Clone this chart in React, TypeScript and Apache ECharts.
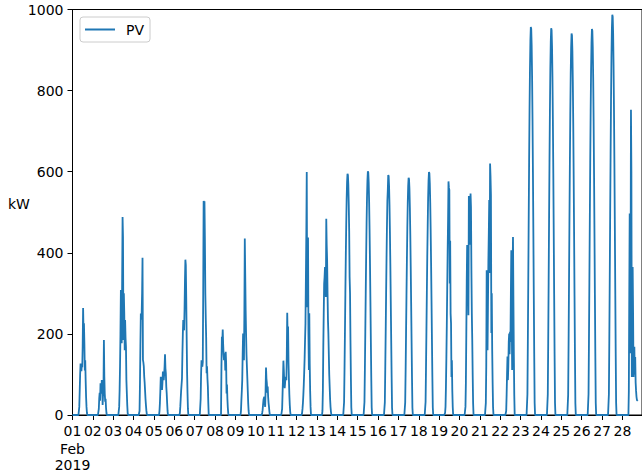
import React, { useEffect, useRef } from "react";
import * as echarts from "echarts";

// Half-hourly PV readings (kW) for each day of Feb 2019, from 06:00 to 18:00
const dayStartHour = 6;
const stepHours = 0.5;
const hoursPerDay = 24;

const pv01 = [0,0,0,0,20,60,100,127,115,108,125,118,170,264,205,226,176,110,135,85,45,20,5,0,0];
const pv02 = [0,0,15,41,55,35,78,60,53,86,70,25,50,66,185,95,53,33,40,18,5,0,0,0,0];
const pv03 = [0,0,20,60,120,200,308,250,177,332,488,439,185,300,250,160,234,190,168,86,55,25,5,0,0];
const pv04 = [0,0,10,80,170,250,235,250,300,388,136,130,120,95,80,60,40,25,12,3,0,0,0,0,0];
const pv05 = [0,10,30,60,94,88,75,62,80,107,95,86,100,120,150,115,103,70,53,30,10,0,0,0,0];
const pv06 = [0,5,20,40,60,75,90,150,200,234,215,209,260,330,383,370,291,193,106,55,15,0,0,0,0];
const pv07 = [0,0,40,100,135,125,119,130,300,528,500,527,431,300,240,190,103,120,90,70,30,0,0,0,0];
const pv08 = [0,0,0,120,193,180,211,175,150,135,145,152,110,156,130,53,75,40,18,4,0,0,0,0,0];
const pv09 = [0,10,37,60,86,150,201,160,135,250,435,349,260,201,150,119,90,60,30,10,0,0,0,0,0];
const pv10 = [0,0,0,5,12,25,37,42,45,30,20,60,117,90,78,55,70,45,30,20,8,0,0,0,0];
const pv11 = [0,0,15,53,90,134,110,80,66,80,94,90,86,150,252,190,218,130,86,50,25,8,0,0,0];
const pv12 = [0,5,15,30,50,75,105,140,185,226,340,450,599,266,350,438,200,111,251,127,60,20,0,0,0];
const pv13 = [0,10,60,168,250,324,340,365,330,291,484,420,382,300,234,200,150,100,70,40,20,8,0,0,0];
const pv14 = [0,0,0,0,32,112,204,299,389,468,531,574,595,592,567,519,453,340,300,186,94,19,0,0,0];
const pv15 = [0,0,0,0,32,113,206,302,393,473,537,579,601,598,573,525,458,376,283,188,95,19,0,0,0];
const pv16 = [0,0,0,0,31,112,203,298,387,466,529,555,592,589,564,517,451,370,279,185,94,18,0,0,0];
const pv17 = [0,0,0,0,31,110,201,294,382,460,522,564,585,582,558,511,446,366,276,183,93,18,0,0,0];
const pv18 = [0,0,0,0,32,113,206,301,391,465,535,578,599,596,571,523,456,374,282,187,95,19,0,0,0];
const pv19 = [0,0,5,20,70,140,220,310,400,480,576,560,555,324,430,250,226,94,135,60,20,0,0,0,0];
const pv20 = [0,0,20,80,200,330,419,300,380,246,540,480,420,520,546,512,357,250,185,100,30,0,0,0,0];
const pv21 = [0,0,30,120,357,250,160,267,380,450,530,350,620,590,543,202,300,160,80,20,0,0,0,0,0];
const pv22 = [0,0,10,50,100,144,86,120,180,201,150,205,180,300,406,250,111,350,439,283,150,50,0,0,0];
const pv23 = [0,0,0,0,51,180,328,481,625,753,854,923,957,952,912,835,729,598,451,299,152,30,0,0,0];
const pv24 = [0,0,0,0,51,180,327,479,623,750,852,920,954,949,909,833,726,596,450,298,151,30,0,0,0];
const pv25 = [0,0,0,0,50,177,323,473,615,740,840,907,941,936,897,821,717,588,444,294,149,29,0,0,0];
const pv26 = [0,0,0,0,51,180,327,478,622,749,850,918,952,947,907,831,725,595,449,297,151,30,0,0,0];
const pv27 = [0,0,0,0,52,186,339,496,644,776,881,951,987,982,941,861,751,617,465,308,156,31,0,0,0];
const pv28 = [0,0,0,60,296,497,152,300,753,600,94,200,365,250,94,130,168,100,143,80,60,45,37,37,35];

const pvDays = [pv01,pv02,pv03,pv04,pv05,pv06,pv07,pv08,pv09,pv10,pv11,pv12,pv13,pv14,
  pv15,pv16,pv17,pv18,pv19,pv20,pv21,pv22,pv23,pv24,pv25,pv26,pv27,pv28];

const dayLabels = ["01","02","03","04","05","06","07","08","09","10","11","12","13","14",
  "15","16","17","18","19","20","21","22","23","24","25","26","27","28"];
const monthLabel = "Feb";
const yearLabel = "2019";
const yTicks = [0, 200, 400, 600, 800, 1000];
const seriesName = "PV";
const unitLabel = "kW";
const monthStartValue = 0;

export default function App() {
  const ref = useRef<HTMLDivElement>(null);
  useEffect(() => {
    if (!ref.current) return;
    const chart = echarts.init(ref.current, undefined, { renderer: "svg" });
    const data: number[][] = [[0, monthStartValue]];
    pvDays.forEach((arr, d) => {
      arr.forEach((v, i) => {
        data.push([d * hoursPerDay + dayStartHour + i * stepHours, v]);
      });
    });
    const xMax = pvDays.length * hoursPerDay - 1;
    const font = "DejaVu Sans";
    const gridLeft = 72.5;
    chart.setOption({
      animation: false,
      backgroundColor: "#ffffff",
      textStyle: { fontFamily: font, color: "#000" },
      grid: {
        left: gridLeft, top: 9.5, width: 573, height: 405.5,
        show: true, borderColor: "#000", borderWidth: 1, backgroundColor: "transparent",
      },
      legend: {
        left: 80, top: 17,
        padding: [5, 6, 5, 5],
        backgroundColor: "rgba(255,255,255,0.8)",
        borderColor: "#cccccc", borderWidth: 1, borderRadius: 3,
        icon: "rect", itemWidth: 30, itemHeight: 2,
        textStyle: { fontFamily: font, fontSize: 14, color: "#000", padding: [0, 0, 0, 6], lineHeight: 15 },
        data: [seriesName],
      },
      xAxis: {
        type: "value", min: 0, max: xMax, interval: hoursPerDay,
        axisLine: { show: true, onZero: false, lineStyle: { color: "#000", width: 1 } },
        axisTick: { show: true, length: 5, lineStyle: { color: "#000", width: 1 } },
        splitLine: { show: false },
        axisLabel: {
          color: "#000", fontSize: 14, fontFamily: font, margin: 9,
          showMinLabel: true, showMaxLabel: false, hideOverlap: false,
          formatter: (v: number) => {
            if (v % hoursPerDay !== 0) return "";
            const lab = dayLabels[v / hoursPerDay];
            return lab === undefined ? "" : lab;
          },
        },
      },
      yAxis: {
        type: "value", min: yTicks[0], max: yTicks[yTicks.length - 1], interval: yTicks[1] - yTicks[0],
        axisLine: { show: true, lineStyle: { color: "#000", width: 1 } },
        axisTick: { show: true, length: 5, lineStyle: { color: "#000", width: 1 } },
        splitLine: { show: false },
        axisLabel: {
          color: "#000", fontSize: 14, fontFamily: font, margin: 9,
          showMinLabel: true, showMaxLabel: true,
          formatter: (v: number) => String(v),
        },
      },
      series: [{
        type: "line", name: seriesName, data,
        showSymbol: false, symbol: "none",
        lineStyle: { color: "#1f77b4", width: 1.8 },
        itemStyle: { color: "#1f77b4" },
      }],
      graphic: [
        {
          type: "text", left: 8, top: 197,
          style: { text: unitLabel, font: `14px '${font}'`, fill: "#000" },
        },
        {
          type: "text", x: gridLeft, y: 441,
          style: {
            text: `${monthLabel}\n${yearLabel}`, font: `14px '${font}'`, fill: "#000",
            align: "center", verticalAlign: "top", textAlign: "center", lineHeight: 16,
          },
        },
      ],
    });
    return () => chart.dispose();
  }, []);
  return <div ref={ref} style={{ position: "fixed", left: 0, top: 0, width: 642, height: 476, background: "#fff" }} />;
}
